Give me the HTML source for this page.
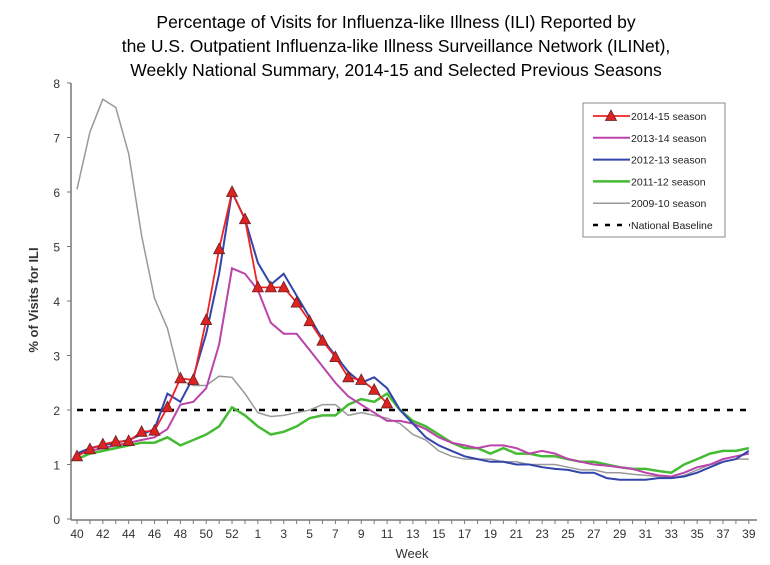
<!DOCTYPE html><html><head><style>body{margin:0;background:#fff}svg{display:block}text{font-family:"Liberation Sans",sans-serif}</style></head><body>
<svg id="s" width="770" height="565" xmlns="http://www.w3.org/2000/svg">
<text x="396" y="28" font-size="17.5" text-anchor="middle">Percentage of Visits for Influenza-like Illness (ILI) Reported by</text>
<text x="396" y="52" font-size="17.5" text-anchor="middle">the U.S. Outpatient Influenza-like Illness Surveillance Network (ILINet),</text>
<text x="396" y="76" font-size="17.5" text-anchor="middle">Weekly National Summary, 2014-15 and Selected Previous Seasons</text>
<text transform="translate(38,300) rotate(-90)" font-size="13" font-weight="bold" text-anchor="middle" fill="#333">% of Visits for ILI</text>
<text x="412" y="558" font-size="13" text-anchor="middle" fill="#333">Week</text>
<g id="g"></g>
</svg>
<script>
var g=document.getElementById('g'),h='';
var X0=77,ST=12.92,Y0=519,SY=54.5;
function X(i){return X0+i*ST}function Y(v){return Y0-v*SY}
h+='<line x1="71" y1="83" x2="71" y2="520" stroke="#777" stroke-width="1.5"/>';
h+='<line x1="71" y1="520" x2="757" y2="520" stroke="#777" stroke-width="1.5"/>';
for(var v=0;v<=8;v++){h+='<line x1="67" x2="71" y1="'+Y(v)+'" y2="'+Y(v)+'" stroke="#777"/><text x="60" y="'+(Y(v)+5)+'" font-size="12" text-anchor="end" fill="#333">'+v+'</text>';}
var wk=[];for(var w=40;w<=53;w++)wk.push(w);for(w=1;w<=39;w++)wk.push(w);
for(var i=0;i<53;i++){h+='<line x1="'+X(i)+'" x2="'+X(i)+'" y1="520" y2="524" stroke="#777"/>';if(i%2==0)h+='<text x="'+X(i)+'" y="538" font-size="12" text-anchor="middle" fill="#333">'+wk[i]+'</text>';}
h+='<line x1="'+X(0)+'" x2="'+X(52)+'" y1="'+Y(2)+'" y2="'+Y(2)+'" stroke="#000" stroke-width="2.5" stroke-dasharray="6,7"/>';
function pl(d,c,sw){var p=d.map(function(v,i){return X(i).toFixed(1)+','+Y(v).toFixed(1)}).join(' ');return '<polyline points="'+p+'" fill="none" stroke="'+c+'" stroke-width="'+sw+'"/>';}
var gray=[6.05,7.1,7.7,7.55,6.7,5.2,4.05,3.5,2.55,2.45,2.45,2.62,2.6,2.3,1.95,1.88,1.9,1.95,2.0,2.1,2.1,1.9,1.95,1.9,1.85,1.75,1.55,1.45,1.25,1.15,1.1,1.1,1.1,1.05,1.05,1.0,1.0,1.0,0.95,0.9,0.9,0.85,0.85,0.82,0.8,0.78,0.75,0.8,0.9,1.0,1.05,1.1,1.1];
var green=[1.1,1.2,1.25,1.3,1.35,1.4,1.4,1.5,1.35,1.45,1.55,1.7,2.05,1.9,1.7,1.55,1.6,1.7,1.85,1.9,1.9,2.1,2.2,2.15,2.3,2.0,1.8,1.7,1.55,1.4,1.3,1.3,1.2,1.3,1.2,1.2,1.15,1.15,1.1,1.05,1.05,1.0,0.95,0.92,0.92,0.88,0.85,1.0,1.1,1.2,1.25,1.25,1.3];
var mag=[1.2,1.25,1.3,1.35,1.4,1.45,1.5,1.65,2.1,2.15,2.4,3.2,4.6,4.5,4.2,3.6,3.4,3.4,3.1,2.8,2.5,2.25,2.1,1.95,1.8,1.8,1.75,1.65,1.5,1.4,1.35,1.3,1.35,1.35,1.3,1.2,1.25,1.2,1.1,1.05,1.0,0.98,0.95,0.92,0.85,0.8,0.78,0.85,0.95,1.0,1.1,1.15,1.2];
var blue=[1.2,1.3,1.35,1.4,1.45,1.55,1.65,2.3,2.15,2.6,3.4,4.5,6.0,5.5,4.7,4.3,4.5,4.1,3.7,3.3,3.0,2.7,2.5,2.6,2.4,2.0,1.75,1.5,1.35,1.25,1.15,1.1,1.05,1.05,1.0,1.0,0.95,0.92,0.9,0.85,0.85,0.75,0.72,0.72,0.72,0.75,0.75,0.78,0.85,0.95,1.05,1.1,1.25];
var red=[1.15,1.28,1.37,1.42,1.43,1.6,1.62,2.05,2.58,2.55,3.65,4.95,6.0,5.5,4.25,4.25,4.25,3.97,3.63,3.27,2.97,2.6,2.55,2.37,2.12];
h+=pl(gray,'#999',1.5)+pl(green,'#44bb33',2.5)+pl(mag,'#bb44aa',2)+pl(blue,'#3344aa',2)+pl(red,'#ee2222',1.8);
function tri(x,y){return '<polygon points="'+x+','+(y-6)+' '+(x-5.5)+','+(y+4.5)+' '+(x+5.5)+','+(y+4.5)+'" fill="#dd2222" stroke="#662222" stroke-width="0.8"/>';}
red.forEach(function(v,i){h+=tri(X(i),Y(v))});
// legend
h+='<rect x="583" y="103" width="142" height="134" fill="#fff" stroke="#888"/>';
var L=[['2014-15 season','#ee2222',1.8],['2013-14 season','#bb44aa',2],['2012-13 season','#3344aa',2],['2011-12 season','#44bb33',2.5],['2009-10 season','#999',1.5]];
L.forEach(function(l,k){var y=116+k*21.8;h+='<line x1="593" x2="630" y1="'+y+'" y2="'+y+'" stroke="'+l[1]+'" stroke-width="'+l[2]+'"/><text x="631" y="'+(y+4)+'" font-size="10.5" fill="#222">'+l[0]+'</text>';if(k==0)h+=tri(611,y);});
h+='<line x1="593" x2="630" y1="225" y2="225" stroke="#000" stroke-width="2.5" stroke-dasharray="5,7"/><text x="631" y="229" font-size="10.5" fill="#222">National Baseline</text>';
g.innerHTML=h;
</script></body></html>
